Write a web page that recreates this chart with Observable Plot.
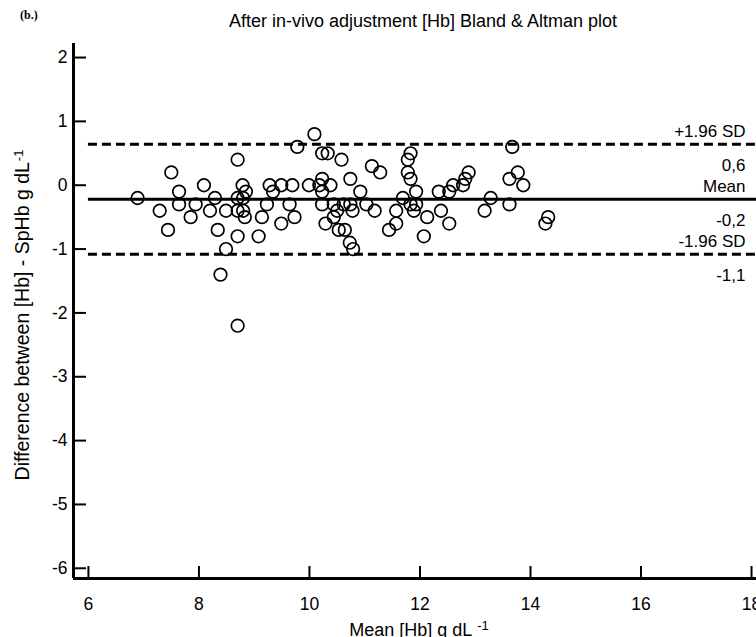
<!DOCTYPE html>
<html><head><meta charset="utf-8">
<script src="https://cdn.jsdelivr.net/npm/d3@7"></script>
<script src="https://cdn.jsdelivr.net/npm/@observablehq/plot@0.6"></script>
<style>
body{margin:0;background:#fff;font-family:"Liberation Sans",Arial,sans-serif;}
#wrap{position:relative;width:756px;height:637px;overflow:hidden;}
#tag{position:absolute;left:20px;top:8px;font:bold 12px "Liberation Serif",serif;}
#title{position:absolute;left:0;width:846px;text-align:center;top:11px;font-size:18px;line-height:20px;}
#chart{position:absolute;left:0;top:0;}
</style></head>
<body>
<div id="wrap">
<div id="chart"></div>
<div id="tag">(b.)</div>
<div id="title">After in-vivo adjustment [Hb] Bland &amp; Altman plot</div>
</div>
<script>
const xDomain = [5.73, 18.09];
const yDomain = [-6.16, 2.22];
const xTicks = [6, 8, 10, 12, 14, 16, 18];
const yTicks = [-6, -5, -4, -3, -2, -1, 0, 1, 2];

const meanHb = [
  6.89, 7.50, 7.64, 7.29, 7.64, 7.44, 7.85, 7.94, 8.09, 8.29, 8.20, 8.34, 8.49, 8.49, 8.39,
  8.70, 8.70, 8.79, 8.85, 8.70, 8.80, 8.70, 8.80, 8.83, 8.70,
  10.09, 9.78, 10.23, 10.33, 10.58, 11.13, 11.28, 11.83, 11.78, 11.78, 11.83, 10.74, 10.23,
  9.28, 9.49, 9.69, 9.34, 9.99, 10.18, 10.38, 10.23, 10.92, 11.93, 12.34, 12.53, 11.69,
  9.23, 9.64, 10.23, 10.44, 10.62, 10.74, 11.03, 11.83, 11.93, 10.50, 10.78, 11.18, 11.89,
  11.57, 12.38, 9.14, 9.73, 10.44, 12.13, 9.49, 10.29, 11.57, 12.53, 10.53, 10.64, 11.44,
  9.08, 12.07, 10.73, 10.79,
  13.67, 12.60, 12.78, 12.82, 12.88, 13.28, 13.17, 13.62, 13.77, 13.87, 13.62, 14.32, 14.27
];
const diffHb = [
  -0.2, 0.2, -0.1, -0.4, -0.3, -0.7, -0.5, -0.3, 0.0, -0.2, -0.4, -0.7, -0.4, -1.0, -1.4,
  -2.2, 0.4, 0.0, -0.1, -0.2, -0.2, -0.4, -0.4, -0.5, -0.8,
  0.8, 0.6, 0.5, 0.5, 0.4, 0.3, 0.2, 0.5, 0.4, 0.2, 0.1, 0.1, 0.1,
  0.0, 0.0, 0.0, -0.1, 0.0, 0.0, 0.0, -0.1, -0.1, -0.1, -0.1, -0.1, -0.2,
  -0.3, -0.3, -0.3, -0.3, -0.3, -0.3, -0.3, -0.3, -0.3, -0.4, -0.4, -0.4, -0.4,
  -0.4, -0.4, -0.5, -0.5, -0.5, -0.5, -0.6, -0.6, -0.6, -0.6, -0.7, -0.7, -0.7,
  -0.8, -0.8, -0.9, -1.0,
  0.6, 0.0, 0.0, 0.1, 0.2, -0.2, -0.4, 0.1, 0.2, 0.0, -0.3, -0.5, -0.6
];

const limitValues = [0.64, -0.22, -1.08];
const limitNames = ["+1.96 SD", "Mean", "-1.96 SD"];
const limitNumbers = ["0,6", "-0,2", "-1,1"];

const xLabel = "Mean [Hb] g dL";
const yLabel = "Difference between [Hb] - SpHb g dL";
const unitSup = "-1";

const points = meanHb.map((m, i) => ({mean: m, diff: diffHb[i]}));

const chart = Plot.plot({
  width: 756,
  height: 650,
  marginLeft: 73,
  marginRight: 0,
  marginTop: 43,
  marginBottom: 72,
  x: {domain: xDomain},
  y: {domain: yDomain},
  style: {fontFamily: "'Liberation Sans', Arial, sans-serif", fontSize: "17px", color: "black", background: "white", overflow: "hidden"},
  marks: [
    Plot.axisX({ticks: xTicks, tickSize: -12, tickPadding: 31, strokeWidth: 2, label: null, tickFormat: d => String(d), fontSize: 17.5}),
    Plot.axisY({ticks: yTicks, tickSize: -13, tickPadding: 19, strokeWidth: 2, label: null, tickFormat: d => String(d), fontSize: 17.5}),
    Plot.ruleX([xDomain[0]], {stroke: "black", strokeWidth: 3}),
    Plot.ruleY([yDomain[0]], {stroke: "black", strokeWidth: 3}),
    Plot.ruleY(limitValues.filter((v, i) => i !== 1), {y: d => d, x1: xTicks[0], x2: xDomain[1], stroke: "black", strokeWidth: 3, strokeDasharray: "9,5"}),
    Plot.ruleY(limitValues.filter((v, i) => i === 1), {y: d => d, x1: xTicks[0], x2: xDomain[1], stroke: "black", strokeWidth: 3}),
    Plot.dot(points, {x: "mean", y: "diff", r: 6.3, stroke: "black", strokeWidth: 1.7, fill: "none"}),
    Plot.text(limitValues, {y: d => d, text: limitNames, frameAnchor: "right", textAnchor: "end", dx: -11, dy: -13, fontSize: 17}),
    Plot.text(limitValues, {y: d => d, text: limitNumbers, frameAnchor: "right", textAnchor: "end", dx: -11, dy: 21, fontSize: 17}),
    Plot.text([xLabel], {text: d => d, frameAnchor: "bottom", textAnchor: "middle", lineAnchor: "top", dy: 45, dx: 4, fontSize: 18}),
    Plot.text([yLabel], {text: d => d, frameAnchor: "left", textAnchor: "middle", lineAnchor: "middle", rotate: -90, dx: -51, dy: 4, fontSize: 19.5})
  ]
});

// add superscript units to the axis titles
d3.select(chart).selectAll("text").each(function() {
  const t = d3.select(this);
  const s = this.textContent;
  if (s === xLabel || s === yLabel) {
    t.append("tspan").attr("dx", s === xLabel ? 5 : 1).attr("dy", "-0.45em").attr("font-size", 13).text(unitSup);
  }
});

document.getElementById("chart").appendChild(chart);
</script>
</body></html>
